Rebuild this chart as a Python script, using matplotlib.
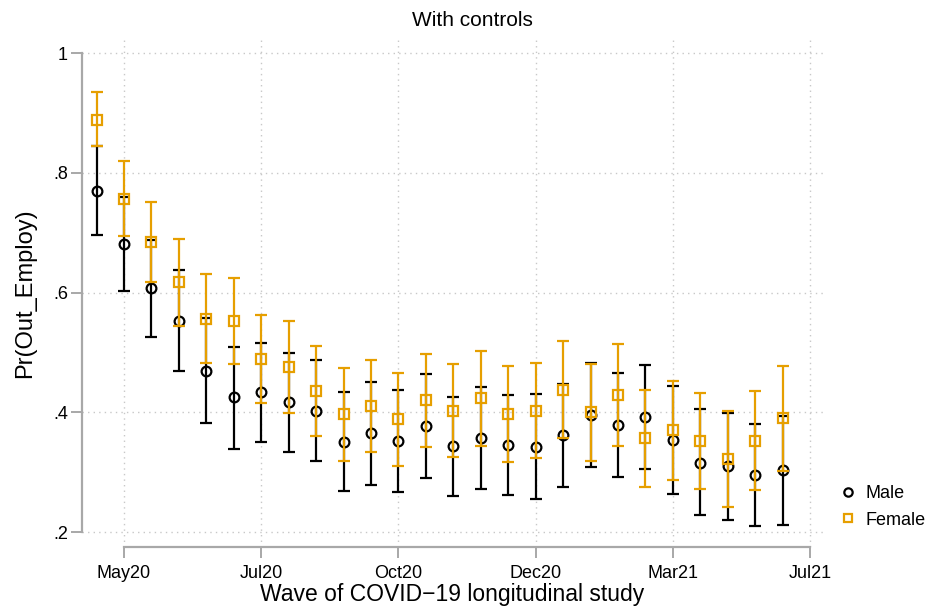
import numpy as np
import matplotlib
matplotlib.use("Agg")
import matplotlib.pyplot as plt
from matplotlib.lines import Line2D

# waves of the study (x positions are wave numbers)
waves = np.arange(1, 27)

male_est = [0.770, 0.682, 0.607, 0.553, 0.470, 0.425, 0.434, 0.417, 0.403, 0.351,
            0.365, 0.352, 0.377, 0.344, 0.358, 0.345, 0.343, 0.362, 0.396, 0.379,
            0.392, 0.354, 0.316, 0.310, 0.295, 0.304]
male_lo = [0.696, 0.603, 0.526, 0.469, 0.382, 0.339, 0.351, 0.334, 0.319, 0.269,
           0.279, 0.267, 0.290, 0.261, 0.273, 0.262, 0.255, 0.276, 0.309, 0.292,
           0.305, 0.264, 0.228, 0.221, 0.211, 0.212]
male_hi = [0.845, 0.759, 0.688, 0.637, 0.558, 0.509, 0.516, 0.499, 0.488, 0.434,
           0.450, 0.438, 0.464, 0.425, 0.442, 0.429, 0.430, 0.448, 0.482, 0.466,
           0.480, 0.444, 0.405, 0.399, 0.380, 0.394]

female_est = [0.889, 0.757, 0.684, 0.617, 0.556, 0.553, 0.490, 0.476, 0.436, 0.397,
              0.411, 0.389, 0.420, 0.403, 0.424, 0.397, 0.403, 0.438, 0.400, 0.429,
              0.357, 0.370, 0.353, 0.323, 0.353, 0.390]
female_lo = [0.845, 0.694, 0.618, 0.545, 0.482, 0.481, 0.415, 0.399, 0.361, 0.319,
             0.334, 0.310, 0.343, 0.326, 0.344, 0.318, 0.324, 0.358, 0.319, 0.344,
             0.276, 0.288, 0.273, 0.243, 0.270, 0.303]
female_hi = [0.935, 0.820, 0.751, 0.689, 0.631, 0.624, 0.563, 0.553, 0.511, 0.475,
             0.487, 0.466, 0.498, 0.481, 0.503, 0.478, 0.483, 0.519, 0.481, 0.514,
             0.438, 0.452, 0.433, 0.403, 0.435, 0.478]

tick_waves = [2, 7, 12, 17, 22, 27]
tick_labels = ["May20", "Jul20", "Oct20", "Dec20", "Mar21", "Jul21"]
y_ticks = [0.2, 0.4, 0.6, 0.8, 1.0]
y_labels = [".2", ".4", ".6", ".8", "1"]

MALE_COL = "#000000"
FEMALE_COL = "#E69F00"
GRID_COL = "#C8C8C8"
AXIS_COL = "#A8A8A8"

plt.rcParams["font.family"] = ["Liberation Sans", "DejaVu Sans"]

fig = plt.figure(figsize=(9.27, 6.10), dpi=100)
ax = fig.add_axes([82 / 927, 1 - 547 / 610, (823 - 82) / 927, (547 - 39) / 610])

def draw_series(est, lo, hi, color, marker, z):
    est = np.asarray(est)
    yerr = np.vstack([est - np.asarray(lo), np.asarray(hi) - est])
    ax.errorbar(waves, est, yerr=yerr, fmt="none", ecolor=color,
                elinewidth=1.6, capsize=4, capthick=1.6, zorder=z)
    ax.plot(waves, est, linestyle="none", marker=marker, markersize=7,
            markerfacecolor="none", markeredgecolor=color, markeredgewidth=1.6,
            zorder=z + 0.5)

draw_series(male_est, male_lo, male_hi, MALE_COL, "o", 3)
draw_series(female_est, female_lo, female_hi, FEMALE_COL, "s", 4)

ax.set_xlim(0.47, 27.47)
ax.set_ylim(0.1754, 1.0234)

ax.set_xticks(tick_waves)
ax.set_xticklabels(tick_labels, fontsize=13)
ax.set_yticks(y_ticks)
ax.set_yticklabels(y_labels, fontsize=13)

ax.grid(True, color=GRID_COL, linestyle=(0, (1, 3)), linewidth=1.0)
ax.set_axisbelow(True)

for side in ["top", "right"]:
    ax.spines[side].set_visible(False)
ax.spines["left"].set_bounds(0.2, 1.0)
ax.spines["bottom"].set_bounds(2, 27)
for side in ["left", "bottom"]:
    ax.spines[side].set_color(AXIS_COL)
    ax.spines[side].set_linewidth(1.6)
ax.tick_params(axis="both", color=AXIS_COL, width=1.4, length=8)
ax.tick_params(axis="x", pad=5)
ax.tick_params(axis="y", pad=2)

ax.set_xlabel("Wave of COVID\u221219 longitudinal study", fontsize=16.5, labelpad=1)
ax.set_ylabel("Pr(Out_Employ)", fontsize=17, labelpad=12)
fig.text(0.51, 1 - 21 / 610, "With controls", fontsize=15, ha="center", va="center")

handles = [
    Line2D([], [], linestyle="none", marker="o", markersize=6, markerfacecolor="none",
           markeredgecolor=MALE_COL, markeredgewidth=1.6, label="Male"),
    Line2D([], [], linestyle="none", marker="s", markersize=6, markerfacecolor="none",
           markeredgecolor=FEMALE_COL, markeredgewidth=1.6, label="Female"),
]
fig.legend(handles=handles, loc="center left", bbox_to_anchor=(828 / 927, 1 - 507 / 610),
           frameon=False, fontsize=13, handlelength=0.8, handletextpad=0.6,
           labelspacing=0.5, borderpad=0.2)

fig.savefig("out.png", dpi=100)
